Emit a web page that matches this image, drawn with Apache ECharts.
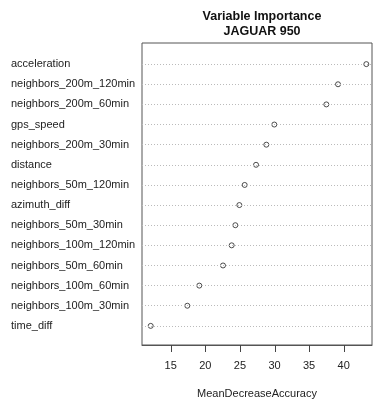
<!DOCTYPE html>
<html>
<head>
<meta charset="utf-8">
<script src="https://cdn.jsdelivr.net/npm/echarts@6/dist/echarts.min.js"></script>
<style>html,body{margin:0;padding:0;background:#fff;}#c{width:376px;height:403px;}</style>
</head>
<body>
<div id="c"></div>
<script>
const variables = ["acceleration","neighbors_200m_120min","neighbors_200m_60min","gps_speed","neighbors_200m_30min","distance","neighbors_50m_120min","azimuth_diff","neighbors_50m_30min","neighbors_100m_120min","neighbors_50m_60min","neighbors_100m_60min","neighbors_100m_30min","time_diff"];
const meanDecreaseAccuracy = [43.27,39.18,37.49,29.97,28.82,27.33,25.69,24.92,24.34,23.81,22.56,19.13,17.40,12.11];
const xTicks = [15,20,25,30,35,40];
const rowPositions = variables.map((_, i) => i + 1);

const Y_MIN = -0.05, Y_MAX = 14.95;
const chart = echarts.init(document.getElementById('c'), null, {renderer: 'canvas'});
const font = '"Liberation Sans", Arial, sans-serif';
chart.setOption({
  animation: false,
  backgroundColor: '#fff',
  title: {
    text: 'Variable Importance\nJAGUAR 950',
    left: 257, top: 4, textAlign: 'center',
    textStyle: {fontFamily: font, fontSize: 12.5, fontWeight: 'bold', color: '#111', lineHeight: 15}
  },
  grid: {left: 142, right: 4, top: 43, height: 302, show: true, borderColor: '#555', borderWidth: 1, backgroundColor: 'transparent', outerBoundsMode: 'none'},
  xAxis: {
    type: 'value', min: 10.85, max: 44.09,
    axisLine: {show: true, onZero: false, lineStyle: {color: '#555', width: 1}},
    splitLine: {show: false},
    axisTick: {show: false},
    axisLabel: {customValues: xTicks, margin: 15, fontFamily: font, fontSize: 11, color: '#222'},
    name: 'MeanDecreaseAccuracy', nameLocation: 'middle', nameGap: 43,
    nameTextStyle: {fontFamily: font, fontSize: 11, color: '#222'}
  },
  yAxis: {
    type: 'value', inverse: true, min: Y_MIN, max: Y_MAX,
    axisLine: {show: false}, axisTick: {show: false}, splitLine: {show: false},
    axisLabel: {
      customValues: rowPositions, align: 'left', margin: 131,
      fontFamily: font, fontSize: 11, color: '#222',
      formatter: v => variables[Math.round(v) - 1] || ''
    }
  },
  series: [
    {
      type: 'line', data: [], silent: true, z: 1,
      markLine: {
        silent: true, symbol: 'none', label: {show: false},
        lineStyle: {type: [1, 2], color: '#bbb', width: 1},
        data: rowPositions.map(p => ({yAxis: p}))
      }
    },
    {
      type: 'scatter', z: 3,
      symbol: 'circle', symbolSize: 5,
      itemStyle: {color: '#fff', borderColor: '#222', borderWidth: 1},
      data: meanDecreaseAccuracy.map((v, i) => [v, rowPositions[i]])
    }
  ]
});
// Axis ticks placed through the chart's own x scale
const tickGraphics = xTicks.map(v => {
  const p = chart.convertToPixel({gridIndex: 0}, [v, Y_MAX]);
  const x = Math.round(p[0]) + 0.5;
  const y = Math.round(p[1]);
  return {
    type: 'line', silent: true, z: 100,
    shape: {x1: x, y1: y, x2: x, y2: y + 7},
    style: {stroke: '#444', lineWidth: 1}
  };
});
chart.setOption({graphic: tickGraphics});
</script>
</body>
</html>
